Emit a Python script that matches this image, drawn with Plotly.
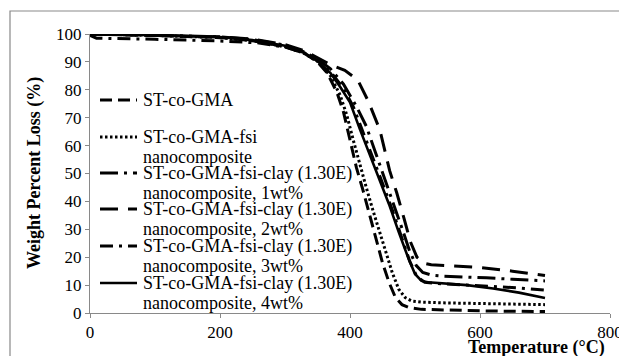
import plotly.graph_objects as go

# ---------------- data ----------------
series_names = [
    ["ST-co-GMA"],
    ["ST-co-GMA-fsi", "nanocomposite"],
    ["ST-co-GMA-fsi-clay (1.30E)", "nanocomposite, 1wt%"],
    ["ST-co-GMA-fsi-clay (1.30E)", "nanocomposite, 2wt%"],
    ["ST-co-GMA-fsi-clay (1.30E)", "nanocomposite, 3wt%"],
    ["ST-co-GMA-fsi-clay (1.30E)", "nanocomposite, 4wt%"],
]

temp_gma = [0, 100, 200, 250, 300, 330, 350, 365, 380, 390, 400, 410, 420, 430, 440, 450, 460, 470, 480, 490, 510, 560, 620, 700]
wt_gma = [100, 99.5, 98.7, 97.6, 95.5, 93, 90, 86, 79, 72, 62, 52, 44, 35.5, 26, 18, 11, 5.5, 3, 2, 1.3, 1, 0.7, 0.5]

temp_fsi = [0, 100, 200, 250, 300, 330, 350, 370, 385, 395, 405, 415, 425, 435, 445, 455, 465, 475, 485, 495, 510, 550, 620, 700]
wt_fsi = [100, 99.5, 98.7, 97.6, 95.5, 93, 90.2, 85, 78, 71, 62, 53, 45, 37, 29.5, 22.5, 14.5, 8.5, 5.5, 4.3, 3.9, 3.6, 3.3, 3]

temp_1wt = [0, 100, 200, 250, 300, 330, 350, 370, 390, 410, 425, 440, 455, 470, 482, 492, 502, 512, 525, 545, 575, 610, 650, 700]
wt_1wt = [100, 99.6, 99, 98, 96, 93.5, 91, 87.5, 82, 74, 67, 57, 47, 37.5, 29, 22, 17, 14.5, 13.6, 13.2, 13, 12.6, 12.1, 11.5]

temp_2wt = [0, 100, 200, 250, 300, 330, 350, 370, 392, 412, 428, 446, 461, 472, 483, 493, 503, 515, 525, 560, 600, 650, 700]
wt_2wt = [100, 99.6, 99, 98.2, 96.2, 94, 91.5, 89, 87, 83.5, 76, 65.6, 51, 43, 34, 25.5, 20, 17.8, 17.3, 16.8, 16.3, 15, 13.4]

temp_3wt = [0, 10, 100, 200, 260, 300, 330, 350, 370, 390, 405, 420, 435, 450, 465, 480, 492, 503, 515, 540, 580, 620, 660, 700]
wt_3wt = [99.5, 98.5, 98.1, 97.5, 96.8, 95.3, 93.2, 90.5, 86.5, 80.5, 74, 65, 56, 46.5, 37, 27, 18.5, 13, 11, 10.5, 10, 9.6, 9, 8.2]

temp_4wt = [0, 100, 200, 250, 300, 330, 350, 370, 385, 400, 415, 430, 445, 460, 475, 490, 500, 510, 520, 540, 580, 620, 660, 700]
wt_4wt = [100, 99.6, 98.9, 97.8, 95.8, 93.2, 90.3, 86, 81, 75.5, 66, 57, 48, 39, 29, 19.5, 14, 11.5, 11, 10.6, 10, 8.8, 7.3, 5.4]

x_ticks = [0, 200, 400, 600, 800]
y_ticks = [0, 10, 20, 30, 40, 50, 60, 70, 80, 90, 100]

series_x = [temp_gma, temp_fsi, temp_1wt, temp_2wt, temp_3wt, temp_4wt]
series_y = [wt_gma, wt_fsi, wt_1wt, wt_2wt, wt_3wt, wt_4wt]

# ---------------- styles ----------------
dashes = ["12px,6px", "2.5px,2.5px", "18px,6px,3px,6px", "18px,10px", "13px,6px,3px,6px", "solid"]
widths = [3, 3, 3, 3, 3, 2.6]
FONT = "Times New Roman, Liberation Serif, serif"
GRAY = "#898989"

W, H = 619, 356
L, R, T, B = 90, 9, 34, 43
PW, PH = W - L - R, H - T - B


def px(xp):
    return (xp - L) / PW


def py(yp):
    return (H - B - yp) / PH


fig = go.Figure()
for xs, ys, nm, d, w in zip(series_x, series_y, series_names, dashes, widths):
    fig.add_trace(go.Scatter(
        x=xs, y=ys, mode="lines", name=" ".join(nm),
        line=dict(color="black", width=w, dash=d),
        showlegend=False,
    ))

# manual legend (Excel-like compact spacing)
legend_centers = [100, 137, 173, 209, 246, 283]
shapes = []
annotations = []
for nm, d, w, cy in zip(series_names, dashes, widths, legend_centers):
    shapes.append(dict(type="line", xref="paper", yref="paper",
                       x0=px(100), x1=px(137), y0=py(cy), y1=py(cy),
                       line=dict(color="black", width=w, dash=d)))
    for i, line in enumerate(nm):
        annotations.append(dict(text=line, xref="paper", yref="paper",
                                x=px(141), y=py(cy + 20 * i),
                                xanchor="left", yanchor="middle", showarrow=False,
                                font=dict(family=FONT, size=18, color="black")))

# outer chart border
shapes.append(dict(type="rect", xref="paper", yref="paper",
                   x0=px(10), x1=px(700), y0=py(400), y1=py(11),
                   line=dict(color=GRAY, width=1.2), layer="below"))

annotations.append(dict(text="<b>Weight Percent Loss (%)</b>", xref="paper", yref="paper",
                        x=px(34), y=py(173), textangle=-90, showarrow=False,
                        xanchor="center", yanchor="middle",
                        font=dict(family=FONT, size=18, color="black")))
annotations.append(dict(text="<b>Temperature (°C)</b>", xref="paper", yref="paper",
                        x=px(536), y=py(347), showarrow=False,
                        xanchor="center", yanchor="middle",
                        font=dict(family=FONT, size=18, color="black")))

fig.update_layout(
    width=W, height=H,
    margin=dict(l=L, r=R, t=T, b=B, autoexpand=False),
    paper_bgcolor="white", plot_bgcolor="white",
    shapes=shapes, annotations=annotations,
    xaxis=dict(range=[0, 800], tickvals=x_ticks, ticktext=[str(v) for v in x_ticks],
               showgrid=False, zeroline=False, showline=True, linecolor=GRAY, linewidth=1,
               ticks="outside", ticklen=4, tickcolor=GRAY, ticklabeloverflow="allow",
               automargin=False,
               tickfont=dict(family=FONT, size=17, color="black")),
    yaxis=dict(range=[0, 100], tickvals=y_ticks, ticktext=[str(v) for v in y_ticks],
               showgrid=False, zeroline=False, showline=True, linecolor=GRAY, linewidth=1,
               ticks="outside", ticklen=4, tickcolor=GRAY, automargin=False,
               tickfont=dict(family=FONT, size=17, color="black")),
)

fig.write_html("out.html")
